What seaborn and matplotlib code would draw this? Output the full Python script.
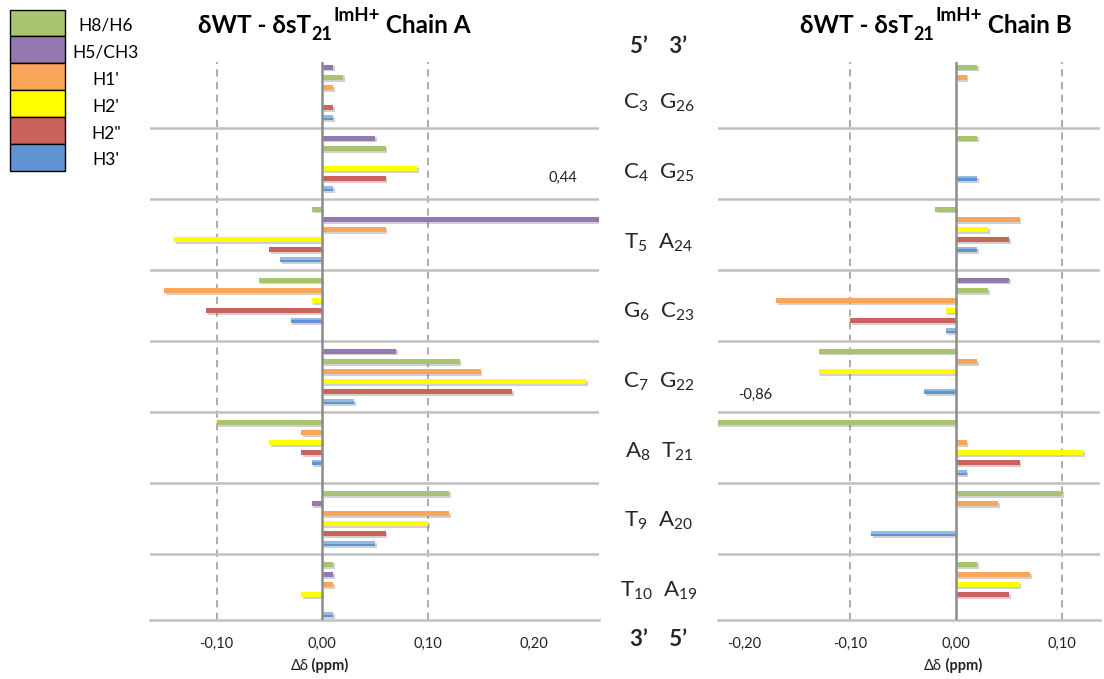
import matplotlib
matplotlib.use("Agg")
import matplotlib.pyplot as plt
import matplotlib.patheffects as pe
from matplotlib.patches import Rectangle
from matplotlib.ticker import FuncFormatter
import pandas as pd
import seaborn as sns

# ---------------------------------------------------------------- data
protons = ["H8/H6", "H5/CH3", "H1'", "H2'", "H2\"", "H3'"]
colors = ["#A8C46E", "#9479B1", "#F9A55A", "#FFFF00", "#CC625C", "#5F94D0"]

# strand A residues (5'->3') paired with strand B residues (3'->5')
residues_a = [("C", "3"), ("C", "4"), ("T", "5"), ("G", "6"),
              ("C", "7"), ("A", "8"), ("T", "9"), ("T", "10")]
residues_b = [("G", "26"), ("G", "25"), ("A", "24"), ("C", "23"),
              ("G", "22"), ("T", "21"), ("A", "20"), ("A", "19")]

# chemical shift differences (ppm); None = proton absent in that base
h8h6_a = [0.02, 0.06, -0.01, -0.06, 0.13, -0.10, 0.12, 0.01]
h5ch3_a = [0.01, 0.05, 0.44, None, 0.07, None, -0.01, 0.01]
h1p_a = [0.01, 0.00, 0.06, -0.15, 0.15, -0.02, 0.12, 0.01]
h2p_a = [0.00, 0.09, -0.14, -0.01, 0.25, -0.05, 0.10, -0.02]
h2pp_a = [0.01, 0.06, -0.05, -0.11, 0.18, -0.02, 0.06, 0.00]
h3p_a = [0.01, 0.01, -0.04, -0.03, 0.03, -0.01, 0.05, 0.01]

h8h6_b = [0.02, 0.02, -0.02, 0.03, -0.13, -0.86, 0.10, 0.02]
h5ch3_b = [None, None, None, 0.05, None, 0.00, None, None]
h1p_b = [0.01, 0.00, 0.06, -0.17, 0.02, 0.01, 0.04, 0.07]
h2p_b = [0.00, 0.00, 0.03, -0.01, -0.13, 0.12, 0.00, 0.06]
h2pp_b = [0.00, 0.00, 0.05, -0.10, 0.00, 0.06, 0.00, 0.05]
h3p_b = [0.00, 0.02, 0.02, -0.01, -0.03, 0.01, -0.08, 0.00]

ticks_a = [-0.10, 0.00, 0.10, 0.20]
ticks_b = [-0.20, -0.10, 0.00, 0.10]
grid_a = [-0.10, 0.10]
grid_b = [-0.10, 0.10]

# row order of the protons within one residue block, per base type
row_order = {
    "C": ["H5/CH3", "H8/H6", "H1'", "H2'", "H2\"", "H3'"],
    "T": ["H8/H6", "H5/CH3", "H1'", "H2'", "H2\"", "H3'"],
    "G": ["H8/H6", "H1'", "H2'", "H2\"", "H3'"],
    "A": ["H8/H6", "H1'", "H2'", "H2\"", "H3'"],
}
ROWS_PER_BLOCK = 7


def build_frame(residues, series):
    recs = []
    for g, (base, _) in enumerate(residues):
        for k, name in enumerate(row_order[base]):
            val = series[name][g]
            if val is None:
                continue
            recs.append({"slot": g * ROWS_PER_BLOCK + k, "value": val, "proton": name})
    return pd.DataFrame(recs)


df_a = build_frame(residues_a, dict(zip(protons, [h8h6_a, h5ch3_a, h1p_a, h2p_a, h2pp_a, h3p_a])))
df_b = build_frame(residues_b, dict(zip(protons, [h8h6_b, h5ch3_b, h1p_b, h2p_b, h2pp_b, h3p_b])))

# ---------------------------------------------------------------- style
sns.set_style("white")
FAMILY = ["Lato", "DejaVu Sans"]
plt.rcParams["font.family"] = FAMILY
plt.rcParams["mathtext.default"] = "regular"

W, H = 1104, 679
fig = plt.figure(figsize=(W / 100, H / 100), dpi=100)


def fx(px):
    return px / W


def fy(py):
    return 1 - py / H


ax_a = fig.add_axes([fx(150), fy(620), fx(599) - fx(150), fy(62) - fy(620)])
ax_b = fig.add_axes([fx(718), fy(620), fx(1100) - fx(718), fy(62) - fy(620)])

n_slots = ROWS_PER_BLOCK * len(residues_a) - 1
sep_color = "#C0C0C0"
fmt = FuncFormatter(lambda v, _: f"{v:.2f}".replace(".", ","))
blue = colors[protons.index("H3'")]


def draw_panel(ax, df, xlim, ticks, grid):
    sns.barplot(data=df, x="value", y="slot", hue="proton", hue_order=protons,
                palette=colors, orient="h", native_scale=True, dodge=False,
                width=0.5, saturation=1, errorbar=None, legend=False,
                linewidth=0, ax=ax, zorder=2)
    shadow = [pe.SimplePatchShadow(offset=(1.3, -1.3), shadow_rgbFace="#7a7a7a", alpha=0.35),
              pe.Normal()]
    for p in list(ax.patches):
        p.set_path_effects(shadow)
        # H3' bars carry a lighter upper half (gradient fill)
        if matplotlib.colors.to_hex(p.get_facecolor()).lower() == blue.lower() and p.get_width() != 0:
            ax.add_patch(Rectangle((p.get_x(), p.get_y()), p.get_width(), p.get_height() * 0.45,
                                   facecolor="white", alpha=0.35, lw=0, zorder=2.1))
    ax.set_xlim(*xlim)
    ax.set_ylim(n_slots - 0.5, -0.5)
    for gx in grid:
        ax.axvline(gx, color="#A6A6A6", lw=1.3, ls=(0, (4, 3)), zorder=1)
    ax.axvline(0, color="#8C8C8C", lw=1.8, zorder=3)
    for g in range(1, len(residues_a)):
        ax.axhline(g * ROWS_PER_BLOCK - 1, color=sep_color, lw=1.8, zorder=1)
    for s in ["top", "right", "left"]:
        ax.spines[s].set_visible(False)
    ax.spines["bottom"].set_color(sep_color)
    ax.spines["bottom"].set_linewidth(1.8)
    ax.set_yticks([])
    ax.set_xticks(ticks)
    ax.xaxis.set_major_formatter(fmt)
    ax.tick_params(axis="x", direction="out", length=5, width=1.5, color=sep_color,
                   pad=7, labelsize=10.5, labelcolor="#222222")
    ax.set_xlabel("")
    ax.set_ylabel("")
    ax.set_facecolor("white")
    # axis title: "Δδ" regular + "(ppm)" bold, centred on zero
    t = ax.annotate("Δδ", xy=(0, 0), xycoords=("data", "axes fraction"),
                    xytext=(-23, -36), textcoords="offset points",
                    ha="left", va="baseline", fontsize=10.5, color="#222222")
    ax.annotate(" (ppm)", xy=(1, 0), xycoords=(t, "axes fraction"),
                xytext=(0, -36), textcoords="offset points",
                ha="left", va="baseline", fontsize=10.5, fontweight="bold", color="#222222")


draw_panel(ax_a, df_a, (-0.163, 0.262), ticks_a, grid_a)
draw_panel(ax_b, df_b, (-0.225, 0.136), ticks_b, grid_b)

# values of bars running past the axis limits
fig.text(fx(563), fy(178), f"{h5ch3_a[2]:.2f}".replace(".", ","), ha="center",
         va="center", fontsize=10.5, color="#222222")
fig.text(fx(755), fy(395), f"{h8h6_b[5]:.2f}".replace(".", ","), ha="center",
         va="center", fontsize=10.5, color="#222222")


# ---------------------------------------------------------------- titles
def title(x0, chain):
    base = fy(33)
    kw = dict(ha="left", va="baseline", fontweight="bold", color="black", family=FAMILY)
    t1 = fig.text(x0, base, "δWT - δsT", fontsize=17.5, **kw)
    t2 = ax_a.annotate("21", xy=(1, base), xycoords=(t1, "figure fraction"),
                       xytext=(0.5, -5), textcoords="offset points", fontsize=13, **kw)
    t3 = ax_a.annotate("ImH+", xy=(1, base), xycoords=(t2, "figure fraction"),
                       xytext=(0.3, 8.5), textcoords="offset points", fontsize=13.5, **kw)
    ax_a.annotate(" Chain " + chain, xy=(1, base), xycoords=(t3, "figure fraction"),
                  xytext=(0, 0), textcoords="offset points", fontsize=17.5, **kw)


title(fx(198), "A")
title(fx(800), "B")

# ---------------------------------------------------------------- strand labels
cx = fx(659)
fig.text(cx, fy(53), "5’    3’", ha="center", va="baseline", fontsize=16, fontweight="bold")
fig.text(cx, fy(646), "3’    5’", ha="center", va="baseline", fontsize=16, fontweight="bold")
for k, ((ba, na), (bb, nb)) in enumerate(zip(residues_a, residues_b)):
    fig.text(cx, fy(109 + 69.7 * k), f"{ba}$_{{{na}}}$  {bb}$_{{{nb}}}$",
             ha="center", va="baseline", fontsize=16)

# ---------------------------------------------------------------- legend
lg = fig.add_axes([0, 0, 1, 1], zorder=5)
lg.set_axis_off()
lg.set_xlim(0, W)
lg.set_ylim(H, 0)
top, step = 9.5, 26.9
for i, (name, col) in enumerate(zip(protons, colors)):
    lg.add_patch(Rectangle((9.5, top + i * step), 55.5, step, facecolor=col,
                           edgecolor="black", lw=1.0))
    lg.text(106, top + i * step + step / 2 + 3, name, ha="center", va="center",
            fontsize=12.5, color="black")

fig.savefig("out.png", dpi=100, facecolor="white")
